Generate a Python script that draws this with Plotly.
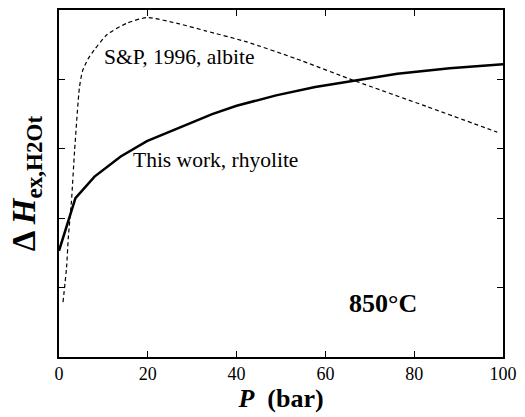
import plotly.graph_objects as go

# This work, rhyolite (solid)
p_rhy = [0, 3.7, 8.0, 13.9, 19.8, 25.7, 31.2, 34.5, 40, 48.9, 57.7, 66.6, 76.2, 88, 100]
h_rhy = [1.53, 2.29, 2.6, 2.89, 3.11, 3.27, 3.41, 3.50, 3.62, 3.77, 3.89, 3.98, 4.08, 4.16, 4.22]

# S&P 1996, albite (dashed)
p_alb = [0.9, 1.7, 2.1, 2.8, 3.5, 4.6, 5.3, 6.5, 8.0, 10.9, 15.3, 19.8, 27.1, 33, 42.3, 53.3, 66.6, 82.8, 98.7]
h_alb = [0.79, 1.29, 1.72, 2.24, 2.96, 3.88, 4.12, 4.29, 4.43, 4.65, 4.81, 4.89, 4.80, 4.70, 4.54, 4.30, 3.98, 3.61, 3.24]

x_ticks = [0, 20, 40, 60, 80, 100]
y_ticks = [0, 1, 2, 3, 4, 5]

FONT = "Times"

fig = go.Figure()
fig.add_trace(go.Scatter(x=p_alb, y=h_alb, mode="lines",
                         line=dict(color="black", width=1.2, dash="4px,3px", shape="spline", smoothing=0.6),
                         showlegend=False))
fig.add_trace(go.Scatter(x=p_rhy, y=h_rhy, mode="lines",
                         line=dict(color="black", width=2.5),
                         showlegend=False))

fig.update_layout(
    width=525, height=417,
    margin=dict(l=59, r=14, t=8, b=60),
    paper_bgcolor="white", plot_bgcolor="white",
    font=dict(family=FONT, color="black"),
    xaxis=dict(range=[0, 100], tickvals=x_ticks, ticks="inside", ticklen=6,
               tickwidth=1, tickcolor="black", mirror="ticks", showline=True,
               linecolor="black", linewidth=1.5, showgrid=False, zeroline=False,
               tickfont=dict(size=18, family=FONT),
               title=dict(text="<b><i>P</i>  (bar)</b>", font=dict(size=26, family=FONT), standoff=0)),
    yaxis=dict(range=[0, 5], tickvals=y_ticks, ticks="inside", ticklen=6,
               tickwidth=1, tickcolor="black", mirror="ticks", showline=True,
               linecolor="black", linewidth=1.5, showgrid=False, zeroline=False,
               showticklabels=False,
               title=dict(text="<b>Δ <i>H</i><sub>ex,H2Ot</sub></b>", font=dict(size=33, family=FONT), standoff=12)),
    annotations=[
        dict(x=9.6, y=4.33, xref="x", yref="y", text="S&amp;P, 1996, albite", showarrow=False,
             xanchor="left", yanchor="middle", font=dict(size=21.5, family=FONT)),
        dict(x=16.2, y=2.84, xref="x", yref="y", text="This work, rhyolite", showarrow=False,
             xanchor="left", yanchor="middle", font=dict(size=21.5, family=FONT)),
        dict(x=64.9, y=0.77, xref="x", yref="y", text="<b>850°C</b>", showarrow=False,
             xanchor="left", yanchor="middle", font=dict(size=26, family=FONT)),
    ],
)

fig.write_html("out.html", config={"displayModeBar": False},
               post_script="document.body.style.margin='0px';")
